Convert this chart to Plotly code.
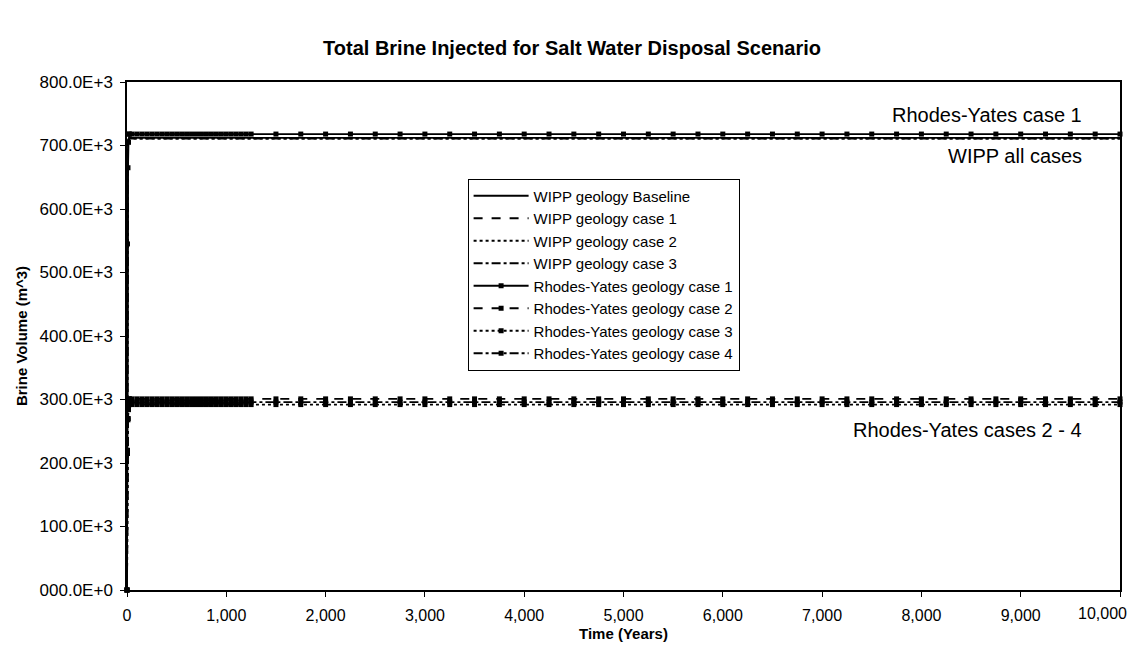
import plotly.graph_objects as go

# ---- data ----
early_times = [0, 5, 10, 15, 20, 25] + list(range(50, 1251, 50))
late_times = list(range(1500, 10001, 250))
times = early_times + late_times
n = len(times)

wipp_base = [0, 640e3, 705e3, 710e3] + [712e3] * (n - 4)
wipp_c1 = [0, 635e3, 704e3, 710e3] + [712e3] * (n - 4)
wipp_c2 = [0, 630e3, 703e3, 709e3] + [711e3] * (n - 4)
wipp_c3 = [0, 628e3, 702e3, 709e3] + [711e3] * (n - 4)
ry_c1 = [0, 545e3, 665e3, 705e3] + [718e3] * (n - 4)
ry_c2 = [0, 220e3, 270e3, 290e3] + [301e3] * (n - 4)
ry_c3 = [0, 215e3, 268e3, 284e3] + [292e3] * (n - 4)
ry_c4 = [0, 218e3, 270e3, 287e3] + [296e3] * (n - 4)

series_names = [
    "WIPP geology Baseline", "WIPP geology case 1", "WIPP geology case 2", "WIPP geology case 3",
    "Rhodes-Yates geology case 1", "Rhodes-Yates geology case 2",
    "Rhodes-Yates geology case 3", "Rhodes-Yates geology case 4",
]
series_values = [wipp_base, wipp_c1, wipp_c2, wipp_c3, ry_c1, ry_c2, ry_c3, ry_c4]
dashes = ["solid", "dash", "dot", "dashdot", "solid", "dash", "dot", "dashdot"]
has_markers = [False, False, False, False, True, True, True, True]

y_tickvals = [0, 100e3, 200e3, 300e3, 400e3, 500e3, 600e3, 700e3, 800e3]
y_ticktext = ["000.0E+0", "100.0E+3", "200.0E+3", "300.0E+3", "400.0E+3",
              "500.0E+3", "600.0E+3", "700.0E+3", "800.0E+3"]
x_tickvals = [0, 1000, 2000, 3000, 4000, 5000, 6000, 7000, 8000, 9000, 10000]
x_ticktext = ["0", "1,000", "2,000", "3,000", "4,000", "5,000", "6,000",
              "7,000", "8,000", "9,000", "10,000"]

FONT = "Arial, Liberation Sans, sans-serif"

fig = go.Figure()
for name, vals, dash, mk in zip(series_names, series_values, dashes, has_markers):
    fig.add_trace(go.Scatter(
        x=times, y=vals, name=name,
        mode="lines+markers" if mk else "lines",
        line=dict(color="black", width=1.8, dash=dash),
        marker=dict(symbol="square", size=5, color="black"),
        cliponaxis=False,
    ))

fig.add_annotation(x=9640, y=718e3, text="Rhodes-Yates case 1", showarrow=False,
                   xanchor="right", yanchor="bottom", yshift=6,
                   font=dict(family=FONT, size=20, color="black"))
fig.add_annotation(x=9640, y=711e3, text="WIPP all cases", showarrow=False,
                   xanchor="right", yanchor="top", yshift=-4,
                   font=dict(family=FONT, size=20, color="black"))
fig.add_annotation(x=9640, y=292e3, text="Rhodes-Yates cases 2 - 4", showarrow=False,
                   xanchor="right", yanchor="top", yshift=-12,
                   font=dict(family=FONT, size=20, color="black"))

# last x tick label, kept inside the page like the reference does
fig.add_annotation(x=x_tickvals[-1], y=0, xref="x", yref="paper",
                   text=x_ticktext[-1], showarrow=False,
                   xanchor="right", yanchor="top", xshift=9, yshift=-13,
                   font=dict(family=FONT, size=16, color="black"))

fig.update_layout(
    width=1128, height=641,
    margin=dict(l=119, r=16, t=74, b=59),
    paper_bgcolor="white", plot_bgcolor="white",
    font=dict(family=FONT, size=15, color="black"),
    title=dict(text="<b>Total Brine Injected for Salt Water Disposal Scenario</b>",
               x=0.5, xanchor="center", y=0.938, yanchor="middle",
               font=dict(family=FONT, size=20, color="black")),
    showlegend=True,
    legend=dict(x=0.343, y=0.81, xanchor="left", yanchor="top",
                bgcolor="white", bordercolor="black", borderwidth=1,
                font=dict(family=FONT, size=15, color="black"),
                itemwidth=55, tracegroupgap=0),
    xaxis=dict(range=[0, 10000], tickvals=x_tickvals,
               ticktext=x_ticktext[:-1] + [""],
               showgrid=False, zeroline=False, showline=True, linecolor="black",
               linewidth=1.5, mirror=True, ticks="outside", ticklen=5,
               tickcolor="black", automargin=False, ticklabelstandoff=5,
               tickfont=dict(size=16),
               title=dict(text="<b>Time (Years)</b>", font=dict(size=15), standoff=6)),
    yaxis=dict(range=[0, 800e3], tickvals=y_tickvals, ticktext=y_ticktext,
               showgrid=False, zeroline=False, showline=True, linecolor="black",
               linewidth=1.5, mirror=True, ticks="outside", ticklen=5,
               tickcolor="black", automargin=False, ticklabelstandoff=4,
               tickfont=dict(size=17),
               title=dict(text="<b>Brine Volume (m^3)</b>", font=dict(size=15), standoff=8)),
)

fig.write_html("out.html")
